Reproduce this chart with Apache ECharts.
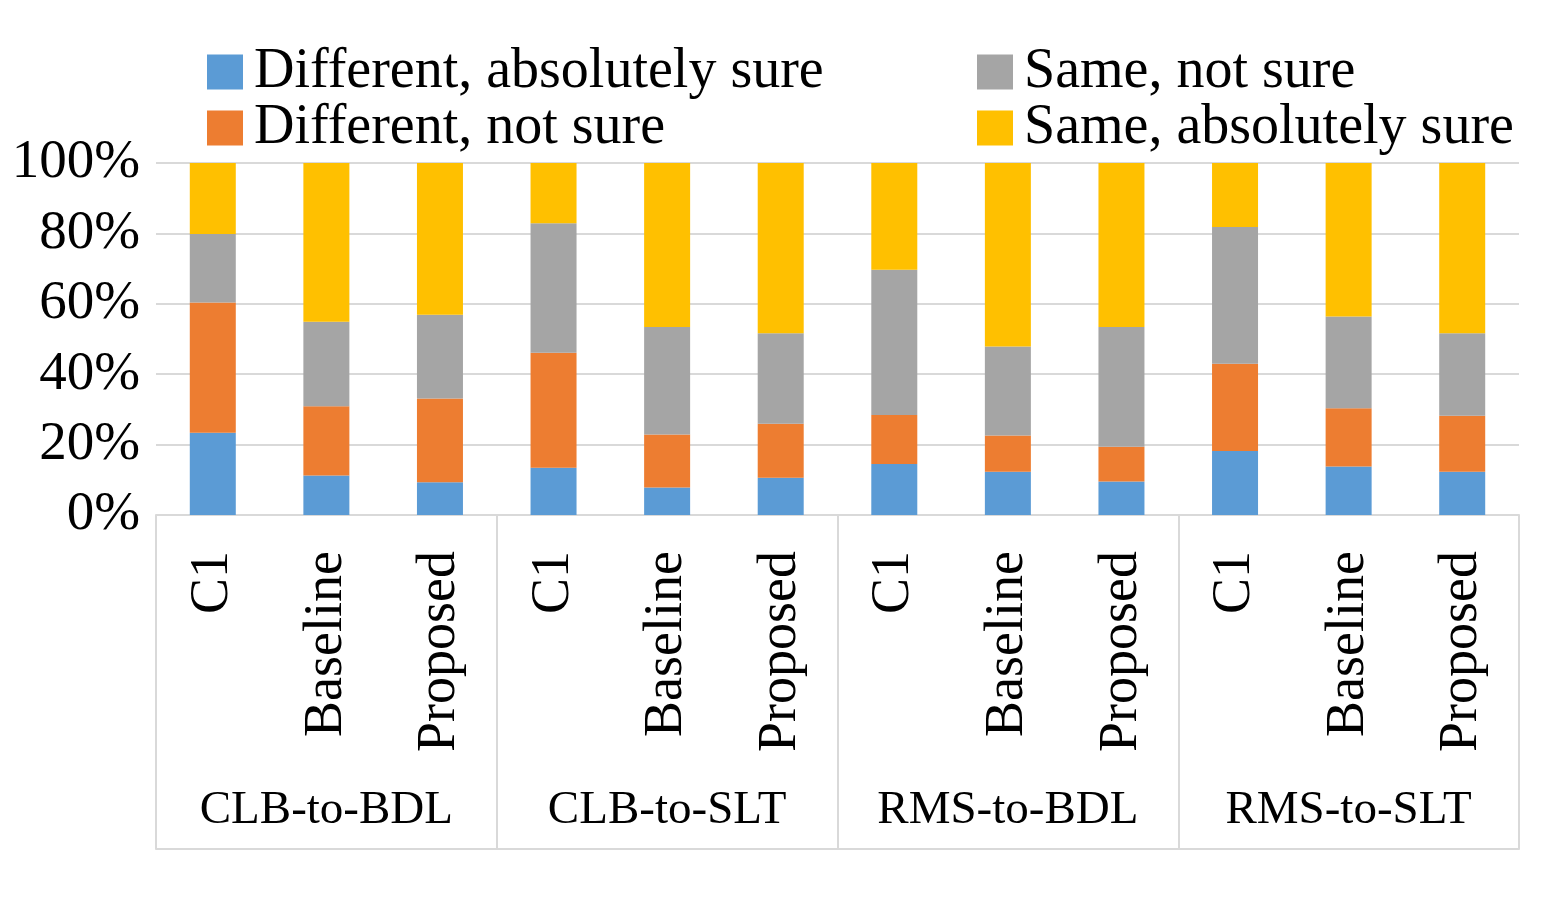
<!DOCTYPE html>
<html>
<head>
<meta charset="utf-8">
<script src="https://cdn.jsdelivr.net/npm/echarts@6/dist/echarts.min.js"></script>
<style>
html,body{margin:0;padding:0;background:#fff;}
#chart{width:1550px;height:900px;}
</style>
</head>
<body>
<div id="chart"></div>
<script>
const categories = ['C1','Baseline','Proposed','C1','Baseline','Proposed','C1','Baseline','Proposed','C1','Baseline','Proposed'];
const groups = ['CLB-to-BDL','CLB-to-SLT','RMS-to-BDL','RMS-to-SLT'];
const seriesNames = ['Different, absolutely sure','Different, not sure','Same, not sure','Same, absolutely sure'];
const diffSure    = [23.4, 11.2, 9.3, 13.4, 7.8, 10.6, 14.5, 12.3, 9.5, 18.2, 13.8, 12.3];
const diffNotSure = [37.0, 19.7, 23.8, 32.7, 15.1, 15.3, 13.9, 10.3, 9.9, 24.8, 16.5, 15.9];
const sameNotSure = [19.4, 24.0, 23.8, 36.8, 30.5, 25.7, 41.3, 25.3, 34.0, 38.8, 26.1, 23.4];
const sameSure    = [20.2, 45.1, 43.1, 17.1, 46.6, 48.4, 30.3, 52.1, 46.6, 18.2, 43.6, 48.4];
const yTicks = {min: 0, max: 100, interval: 20};
const colors = ['#5B9BD5','#ED7D31','#A5A5A5','#FFC000'];

const FONT = "'Liberation Serif','Times New Roman',serif";
const lineCol = '#d9d9d9';
const chart = echarts.init(document.getElementById('chart'));
const values = [diffSure, diffNotSure, sameNotSure, sameSure];

const legendBase = {
  orient: 'vertical',
  itemWidth: 36, itemHeight: 35, itemGap: 0,
  icon: 'rect',
  textStyle: {fontFamily: FONT, fontSize: 56, color: '#000', lineHeight: 55, padding: [0,0,0,6]}
};

chart.setOption({
  animation: false,
  color: colors,
  legend: [
    Object.assign({}, legendBase, {left: 202, top: 39, data: [seriesNames[0], seriesNames[1]]}),
    Object.assign({}, legendBase, {left: 972, top: 39, data: [seriesNames[2], seriesNames[3]]})
  ],
  grid: {left: 156, right: 31, top: 163, bottom: 385, containLabel: false},
  xAxis: [
    {
      type: 'category', data: categories, position: 'bottom',
      axisLine: {show: true, lineStyle: {color: lineCol, width: 2}},
      axisTick: {show: false},
      axisLabel: {rotate: 90, interval: 0, margin: 36, fontFamily: FONT, fontSize: 54, color: '#000'}
    },
    {
      type: 'category', data: groups, position: 'bottom', offset: 0,
      axisLine: {show: false},
      axisTick: {show: true, length: 334, lineStyle: {color: lineCol, width: 2}},
      axisLabel: {interval: 0, margin: 268, fontFamily: FONT, fontSize: 47, color: '#000', lineHeight: 56}
    },
    {
      type: 'category', data: groups, position: 'bottom', offset: 334,
      axisLine: {show: true, lineStyle: {color: lineCol, width: 2}},
      axisTick: {show: false},
      axisLabel: {show: false}
    }
  ],
  yAxis: {
    type: 'value', min: yTicks.min, max: yTicks.max, interval: yTicks.interval,
    axisLine: {show: false}, axisTick: {show: false},
    splitLine: {lineStyle: {color: lineCol, width: 2}},
    axisLabel: {formatter: '{value}%', margin: 16, fontFamily: FONT, fontSize: 55, color: '#000', padding: [5,0,0,0]}
  },
  series: seriesNames.map((n, i) => ({
    name: n, type: 'bar', stack: 'total', barWidth: '40.5%',
    xAxisIndex: 0, data: values[i], itemStyle: {color: colors[i]}
  }))
});
</script>
</body>
</html>
